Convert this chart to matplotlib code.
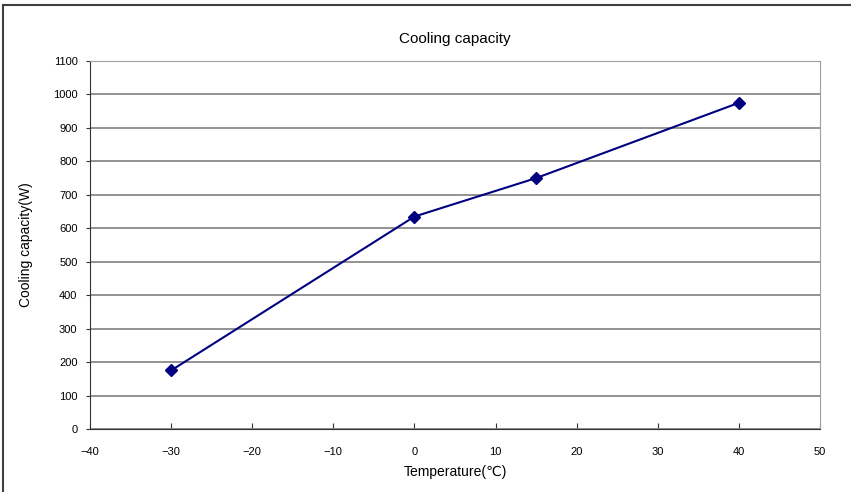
import matplotlib
matplotlib.use('Agg')
import matplotlib.pyplot as plt
from matplotlib.lines import Line2D

# Data
temps = [-30, 0, 15, 40]
capacity = [175, 635, 750, 975]
x_ticks = list(range(-40, 51, 10))
y_ticks = list(range(0, 1101, 100))

plt.rcParams['font.family'] = ['Liberation Sans', 'DejaVu Sans']

fig = plt.figure(figsize=(8.51, 4.92), dpi=100)
ax = fig.add_axes([90 / 851, 1 - 429 / 492, 730 / 851, 368 / 492])

ax.plot(temps, capacity, color='#000080', linewidth=1.5, marker='D',
        markersize=6, zorder=3)

ax.set_xlim(-40, 50)
ax.set_ylim(0, 1100)
ax.set_xticks(x_ticks)
ax.set_yticks(y_ticks)
ax.set_xticklabels([str(t).replace('-', '\u2212') for t in x_ticks], fontsize=8)
ax.set_yticklabels([str(t) for t in y_ticks], fontsize=8)
ax.tick_params(axis='x', direction='in', length=4, color='#333333', pad=13)
ax.tick_params(axis='y', direction='out', length=3, color='#333333', pad=6)

# gray gridlines
ax.yaxis.grid(True, color='#808080', linewidth=1.2)
ax.set_axisbelow(True)
for side in ['top', 'right']:
    ax.spines[side].set_color('#a0a0a0')
for side in ['left', 'bottom']:
    ax.spines[side].set_color('#333333')

ax.set_title('Cooling capacity', fontsize=11, pad=13)
ax.set_xlabel('Temperature(\u2103)', fontsize=10, labelpad=6)
ax.set_ylabel('Cooling capacity(W)', fontsize=10, labelpad=14)

# outer frame (left and top edges visible in the reference)
fig.add_artist(Line2D([3 / 851, 3 / 851], [0, 1 - 5 / 492], transform=fig.transFigure,
                      color='#404040', linewidth=1.5))
fig.add_artist(Line2D([3 / 851, 1], [1 - 5 / 492, 1 - 5 / 492], transform=fig.transFigure,
                      color='#404040', linewidth=1.5))

fig.savefig('out.png', dpi=100)
